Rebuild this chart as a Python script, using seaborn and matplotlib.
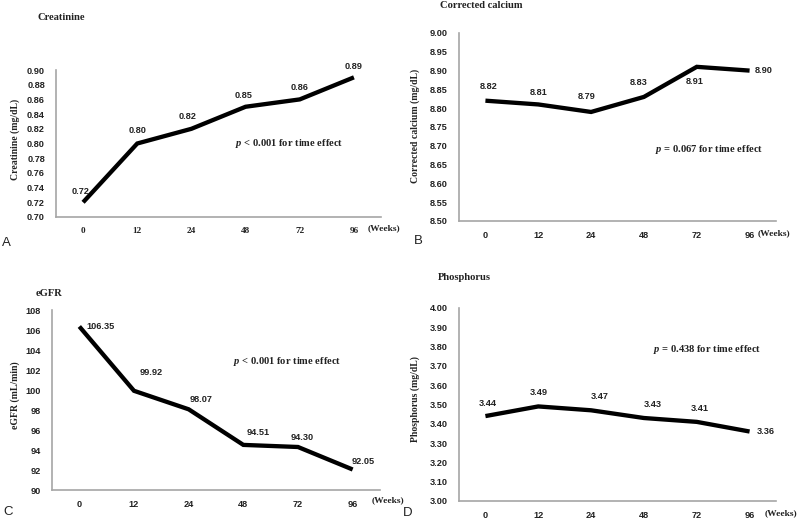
import matplotlib
matplotlib.use("Agg")
import matplotlib.pyplot as plt
import seaborn as sns
import pandas as pd
import numpy as np

# ---------------- data ----------------
weeks = ["0", "12", "24", "48", "72", "96"]
creatinine = [0.72, 0.80, 0.82, 0.85, 0.86, 0.89]
calcium = [8.82, 8.81, 8.79, 8.83, 8.91, 8.90]
egfr = [106.35, 99.92, 98.07, 94.51, 94.30, 92.05]
phosphorus = [3.44, 3.49, 3.47, 3.43, 3.41, 3.36]

titles = ["Creatinine", "Corrected calcium", "eGFR", "Phosphorus"]
ylabels = ["Creatinine (mg/dL)", "Corrected calcium (mg/dL)", "eGFR (mL/min)", "Phosphorus (mg/dL)"]
ptexts = [r"$p$ < 0.001 for time effect", r"$p$ = 0.067 for time effect",
          r"$p$ < 0.001 for time effect", r"$p$ = 0.438 for time effect"]
letters = ["A", "B", "C", "D"]

# ---------------- style ----------------
sns.set_theme(style="white")
plt.rcParams["font.family"] = ["Liberation Serif", "DejaVu Sans"]
plt.rcParams["mathtext.fontset"] = "custom"
plt.rcParams["mathtext.it"] = "Liberation Serif:italic:bold"
plt.rcParams["mathtext.rm"] = "Liberation Serif:bold"

W, H = 800, 519
fig = plt.figure(figsize=(8, 5.19), dpi=100)

def fx(px):
    return px / W

def fy(py):
    return 1 - py / H

# axes rectangles in pixel coords: left, right, top, bottom
rects = [(56, 381, 70, 217), (459, 776, 33, 221), (52, 380, 310, 490), (459, 776, 308, 501)]
ylims = [(0.70, 0.90), (8.50, 9.00), (90, 108), (3.00, 4.00)]
ysteps = [0.02, 0.05, 2, 0.10]
yfmt = ["{:.2f}", "{:.2f}", "{:.0f}", "{:.2f}"]
series = [creatinine, calcium, egfr, phosphorus]
xtickfont = ["Liberation Serif", "Liberation Sans", "Liberation Sans", "Liberation Sans"]

# label offsets (pixels, dx, dy up)
offsets = [
    [(-3, 11), (0, 13), (-4, 12), (-2, 11), (0, 12), (0, 11)],
    [(3, 14), (0, 12), (-4, 15), (-5, 14), (-2, -15), (14, 0)],
    [(21, 0), (17, 18), (12, 10), (15, 12), (4, 9), (11, 8)],
    [(2, 13), (0, 14), (9, 14), (9, 14), (3, 13), (16, 0)],
]

title_pos = [(37, 18), (440, 6), (36, 293), (438, 278)]
letter_pos = [(2, 243), (414, 241), (3, 512), (403, 513)]
ylabel_pos = [(15, 139), (415, 126), (15, 395), (415, 399)]
ptext_pos = [(235, 144), (655, 149), (233, 362), (653, 350)]
weeks_pos = [(368, 228), (758, 233), (372, 500), (765, 513)]

for i in range(4):
    l, r, t, b = rects[i]
    ax = fig.add_axes([fx(l), fy(b), (r - l) / W, (b - t) / H])
    df = pd.DataFrame({"week": weeks, "value": series[i]})
    sns.lineplot(data=df, x="week", y="value", ax=ax, color="black", linewidth=3.1,
                 sort=False, solid_capstyle="butt", solid_joinstyle="miter")
    ax.set_xlim(-0.5, len(weeks) - 0.5)
    lo, hi = ylims[i]
    ax.set_ylim(lo, hi)
    yt = np.arange(lo, hi + ysteps[i] / 2, ysteps[i])
    ax.set_yticks(yt)
    ax.set_yticklabels([yfmt[i].format(v) for v in yt], fontfamily="Liberation Sans",
                       fontweight="bold", fontsize=6.6, color="#222222")
    ax.set_xticks(range(len(weeks)))
    ax.set_xticklabels(weeks, fontfamily=xtickfont[i], fontweight="bold",
                       fontsize=6.6, color="#222222")
    ax.tick_params(axis="both", length=0)
    ax.tick_params(axis="y", pad=8)
    ax.tick_params(axis="x", pad=7)
    ax.set_xlabel("")
    ax.set_ylabel("")
    for s in ["top", "right"]:
        ax.spines[s].set_visible(False)
    for s in ["left", "bottom"]:
        ax.spines[s].set_color("#a6a6a6")
        ax.spines[s].set_linewidth(1.2)
    ax.grid(False)

    # data labels
    for j, v in enumerate(series[i]):
        dx, dy = offsets[i][j]
        ax.annotate(f"{v:.2f}", xy=(j, v), xytext=(dx, dy), textcoords="offset pixels",
                    ha="center", va="center", fontsize=6.6, fontweight="bold",
                    fontfamily="Liberation Sans", color="#222222")

    # texts in figure coordinates
    tx, ty = title_pos[i]
    fig.text(fx(tx), fy(ty), titles[i], ha="left", va="center", fontsize=7.6,
             fontweight="bold", color="#222222")
    lx, ly = letter_pos[i]
    fig.text(fx(lx), fy(ly), letters[i], ha="left", va="center", fontsize=9.5,
             fontfamily="Liberation Sans", color="#222222")
    yx, yy = ylabel_pos[i]
    fig.text(fx(yx), fy(yy), ylabels[i], ha="center", va="center", rotation=90,
             fontsize=7, fontweight="bold", color="#222222")
    px, py = ptext_pos[i]
    fig.text(fx(px), fy(py), ptexts[i], ha="left", va="center", fontsize=7.6,
             fontweight="bold", color="#222222")
    wx, wy = weeks_pos[i]
    fig.text(fx(wx), fy(wy), "(Weeks)", ha="left", va="center", fontsize=6.8,
             fontweight="bold", color="#222222")

fig.savefig("out.png", dpi=100, facecolor="white")
